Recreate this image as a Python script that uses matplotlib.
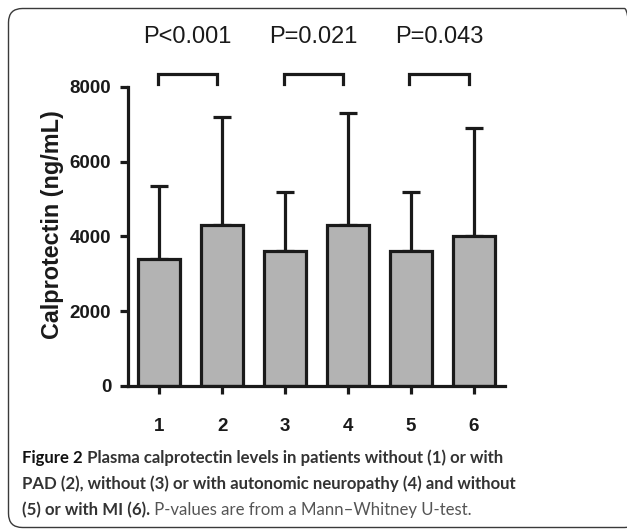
import matplotlib
matplotlib.use("Agg")
import matplotlib.pyplot as plt
from matplotlib.patches import FancyBboxPatch
import numpy as np

groups = ["1", "2", "3", "4", "5", "6"]
means = [3400, 4300, 3600, 4300, 3600, 4000]
sd_upper = [1950, 2900, 1600, 3000, 1600, 2900]
yticks = [0, 2000, 4000, 6000, 8000]
pairs = [(1, 2), (3, 4), (5, 6)]
pvalues = ["P<0.001", "P=0.021", "P=0.043"]

W, H = 627, 531
fig = plt.figure(figsize=(W / 100, H / 100), dpi=100)
fig.patch.set_facecolor("white")

# rounded frame (pixel coordinates)
frame = FancyBboxPatch((8.5, 3.5), 630, H - 12,
                       boxstyle="round,pad=0,rounding_size=14",
                       transform=None, fill=False,
                       edgecolor="#3a3a3a", linewidth=1.0)
fig.patches.append(frame)

ax = fig.add_axes([128 / W, (H - 386) / H, (505 - 128) / W, (386 - 87) / H])
x = np.arange(1, len(groups) + 1)
edge = "#1a1a1a"
lw = 2.3
ax.bar(x, means, width=0.67, color="#b3b3b3", edgecolor=edge, linewidth=lw, zorder=2)
ax.errorbar(x, means, yerr=[np.zeros(len(x)), sd_upper], fmt="none",
            ecolor=edge, elinewidth=lw, capsize=6.5, capthick=lw, zorder=1)

ax.set_xlim(0.5, 6.5)
ax.set_ylim(0, 8000)
ax.set_yticks(yticks)
ax.set_xticks(x)
ax.set_xticklabels(groups)
for s in ["top", "right"]:
    ax.spines[s].set_visible(False)
for s in ["left", "bottom"]:
    ax.spines[s].set_linewidth(lw)
    ax.spines[s].set_color(edge)
ax.tick_params(axis="both", width=lw, length=6, color=edge)
ax.tick_params(axis="y", pad=6)
ax.tick_params(axis="x", pad=17)
for lab in ax.get_yticklabels() + ax.get_xticklabels():
    lab.set_fontfamily("Liberation Sans")
    lab.set_fontweight("bold")
    lab.set_fontsize(13.5)
    lab.set_color("#1a1a1a")
ax.set_ylabel("Calprotectin (ng/mL)", fontfamily="Liberation Sans", fontweight="bold",
              fontsize=16.8, color="#1a1a1a")
ax.yaxis.set_label_coords(-0.17, 0.54)

# significance brackets
for (a, b), p in zip(pairs, pvalues):
    x0, x1 = a - 0.02, b - 0.08
    ax.plot([x0, x0, x1, x1], [8080, 8350, 8350, 8080], color=edge, lw=lw,
            clip_on=False, solid_joinstyle="miter")
    ax.text((x0 + x1) / 2, 9330, p, ha="center", va="center",
            fontfamily="Liberation Sans", fontsize=17, color="#1a1a1a", clip_on=False)

# caption
cfont = "Lato"
cs = 12.1
l1a = fig.text(22 / W, 1 - 458 / H, "Figure 2", fontfamily=cfont, fontweight="bold",
               fontsize=cs, color="#111111", va="center")
ax.annotate(" Plasma calprotectin levels in patients without (1) or with",
            xy=(1, 0), xycoords=l1a, va="bottom", ha="left",
            fontfamily=cfont, fontweight="bold", fontsize=cs, color="#333333")
fig.text(22 / W, 1 - 484 / H,
         "PAD (2), without (3) or with autonomic neuropathy (4) and without",
         fontfamily=cfont, fontweight="bold", fontsize=cs, color="#333333", va="center")
l3a = fig.text(22 / W, 1 - 510 / H, "(5) or with MI (6).", fontfamily=cfont,
               fontweight="bold", fontsize=cs, color="#333333", va="center")
ax.annotate(" P-values are from a Mann\u2013Whitney U-test.", xy=(1, 0), xycoords=l3a,
            va="bottom", ha="left", fontfamily=cfont, fontsize=cs, color="#555555")

fig.savefig("out.png", dpi=100, facecolor="white")
